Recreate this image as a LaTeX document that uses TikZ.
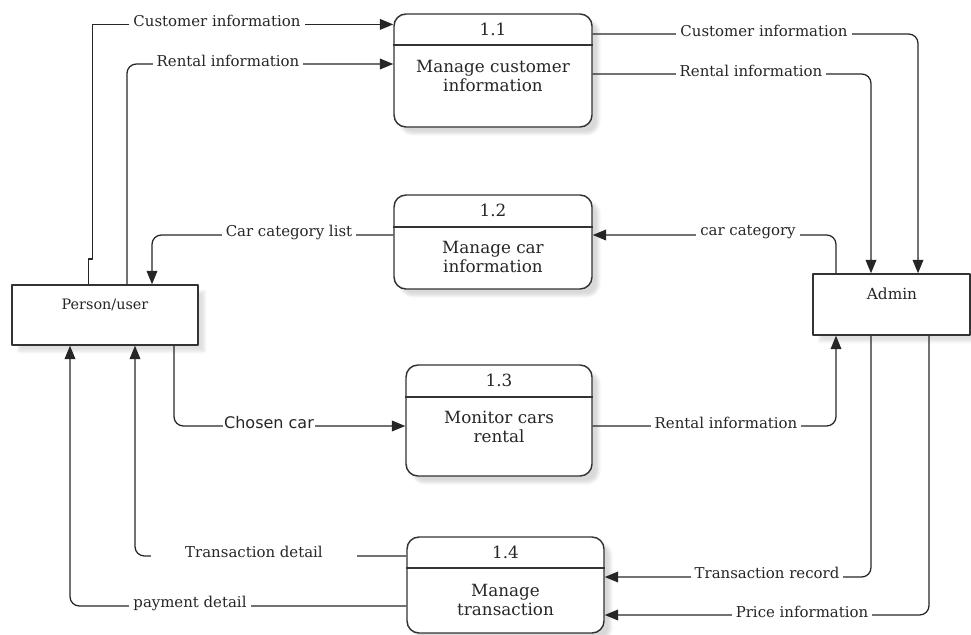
\documentclass[tikz,border=0pt]{standalone}
\usepackage{fontspec}
\setmainfont{DejaVu Serif}
\newfontfamily\chosenfont{DejaVu Sans}
\usetikzlibrary{arrows.meta,fit,shadows.blur}

\begin{document}
\begin{tikzpicture}[x=0.75pt, y=-0.75pt, line join=round,
  every node/.style={font=\fontsize{11.2}{12.5}\selectfont, text=black!85},
  procbox/.style={draw=black!80, line width=1.1pt, rounded corners=9pt, fill=white, inner sep=0pt,
    blur shadow={shadow xshift=5pt, shadow yshift=-5pt, shadow blur steps=6, shadow opacity=15}},
  entity/.style={draw=black!80, line width=1.1pt, fill=white, inner sep=0pt,
    blur shadow={shadow xshift=5pt, shadow yshift=-5pt, shadow blur steps=6, shadow opacity=12}},
  divider/.style={draw=black!80, line width=1.1pt},
  flow/.style={draw=black!85, line width=0.95pt, rounded corners=7pt, -{Triangle[length=10pt, width=8pt]}},
  lbl/.style={fill=white, inner xsep=3pt, inner ysep=1pt},
  title/.style={font=\fontsize{12.6}{14}\selectfont, align=center}]
  \useasboundingbox (0,0) rectangle (971,635);

  % External entities
  \node[entity, fit={(12,285) (198,345)}] (person) {};
  \node[font=\fontsize{10.8}{12}\selectfont] (personText) at (105,305) {Person/user};
  \node[entity, fit={(813,274) (970,335)}] (admin) {};
  \node[font=\fontsize{11.5}{13}\selectfont] (adminText) at (892,294) {Admin};

  % Processes
  \node[procbox, fit={(394,14) (592,127)}] (p11) {};
  \draw[divider] (p11.west |- 0,45) -- (p11.east |- 0,45);
  \node[title] (n11) at (p11.north |- 0,29) {1.1};
  \node[title] (t11) at (p11.north |- 0,76) {Manage customer\\information};

  \node[procbox, fit={(394,195) (592,289)}] (p12) {};
  \draw[divider] (p12.west |- 0,227) -- (p12.east |- 0,227);
  \node[title] (n12) at (p12.north |- 0,210) {1.2};
  \node[title] (t12) at (p12.north |- 0,257) {Manage car\\information};

  \node[procbox, fit={(406,365) (592,476)}] (p13) {};
  \draw[divider] (p13.west |- 0,397) -- (p13.east |- 0,397);
  \node[title] (n13) at (p13.north |- 0,380) {1.3};
  \node[title] (t13) at (p13.north |- 0,427) {Monitor cars\\rental};

  \node[procbox, fit={(407,537) (604,633)}] (p14) {};
  \draw[divider] (p14.west |- 0,568) -- (p14.east |- 0,568);
  \node[title] (n14) at (p14.north |- 0,552) {1.4};
  \node[title] (t14) at (p14.north |- 0,600) {Manage\\transaction};

  % Flows on the person side
  \draw[flow, sharp corners] (88.6,0 |- person.north) -- (88.6,259) -- (92.6,259) -- (92.6,24.4) -- (p11.west |- 0,24.4);
  \node[lbl] (lCustA) at (217,21) {Customer information};
  \draw[flow] (127,0 |- person.north) -- (127,64) -- (p11.west |- 0,64);
  \node[lbl] (lRentA) at (228,61) {Rental information};
  \draw[flow] (p12.west |- 0,235) -- (152,235) -- (152,0 |- person.north);
  \node[lbl] (lCatList) at (289,232) {Car category list};
  \draw[flow] (174,0 |- person.south) -- (174,426) -- (p13.west |- 0,426);
  \node[lbl, inner xsep=0.5pt, font=\chosenfont\fontsize{12}{13.5}\selectfont] (lChosen) at (269,423) {Chosen car};
  \draw[flow] (p14.west |- 0,556) -- (135,556) -- (135,0 |- person.south);
  \node[lbl, inner xsep=26pt] (lTrDetail) at (254,552) {Transaction detail};
  \draw[flow] (p14.west |- 0,606) -- (70,606) -- (70,0 |- person.south);
  \node[lbl] (lPay) at (190,603) {payment detail};

  % Flows on the admin side
  \draw[flow] (p11.east |- 0,34) -- (918,34) -- (918,0 |- admin.north);
  \node[lbl] (lCustB) at (764,31) {Customer information};
  \draw[flow] (p11.east |- 0,74) -- (871,74) -- (871,0 |- admin.north);
  \node[lbl] (lRentB) at (751,71) {Rental information};
  \draw[flow] (836,0 |- admin.north) -- (836,235) -- (p12.east |- 0,235);
  \node[lbl] (lCat) at (748,232) {car category};
  \draw[flow] (p13.east |- 0,426) -- (836,426) -- (836,0 |- admin.south);
  \node[lbl] (lRentC) at (726,423) {Rental information};
  \draw[flow] (871,0 |- admin.south) -- (871,577) -- (p14.east |- 0,577);
  \node[lbl] (lTrRec) at (767,573) {Transaction record};
  \draw[flow] (929,0 |- admin.south) -- (929,615) -- (p14.east |- 0,615);
  \node[lbl] (lPrice) at (802,612) {Price information};
\end{tikzpicture}
\end{document}
